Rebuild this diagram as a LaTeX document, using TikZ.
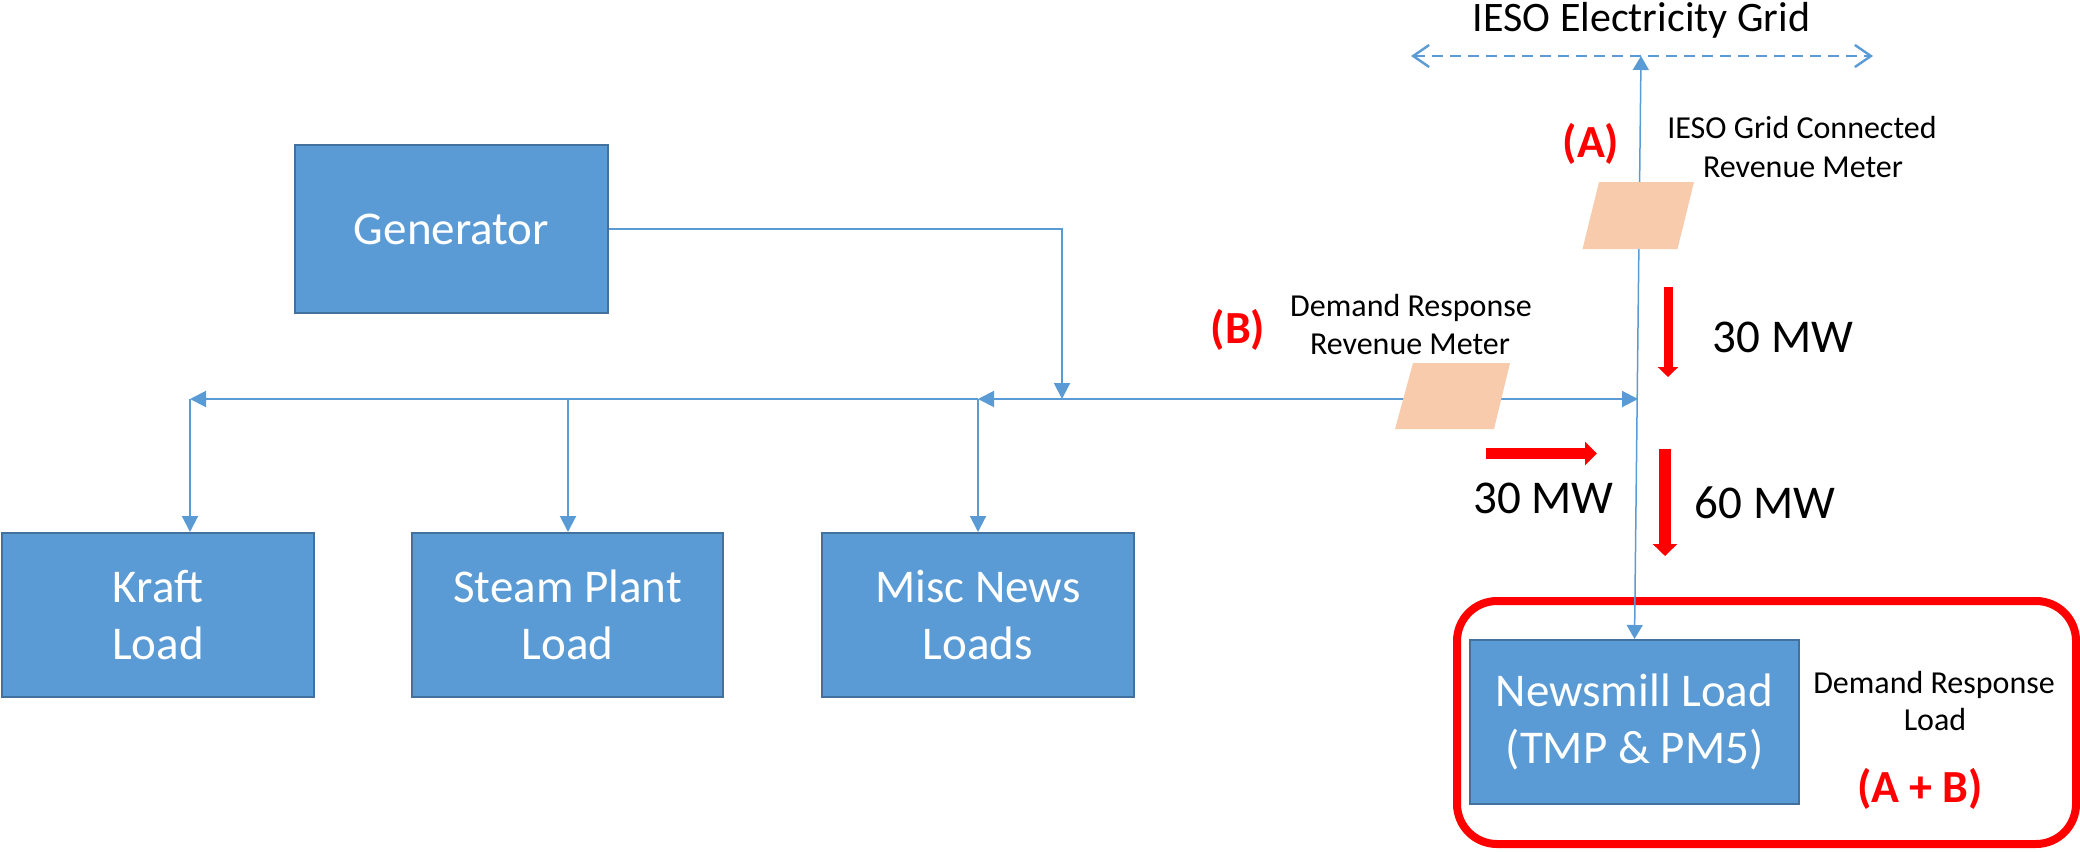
\documentclass[tikz,border=0pt]{standalone}
\usepackage{fontspec}
\setmainfont{Carlito}
\usetikzlibrary{arrows.meta}
\definecolor{boxblue}{HTML}{5B9BD5}
\definecolor{boxedge}{HTML}{41719C}
\definecolor{wire}{HTML}{5B9BD5}
\definecolor{meterfill}{HTML}{F8CBAD}
\definecolor{alertred}{HTML}{FF0000}
\tikzset{
  blockbox/.style={draw=boxedge, fill=boxblue, line width=1pt, text=white, align=center,
    inner sep=0pt, font=\fontsize{23.5}{28.8}\selectfont},
  wireline/.style={draw=wire, line width=1pt},
  wtip/.tip={Triangle[length=8pt,width=8pt]},
  vtip/.tip={Triangle[length=7pt,width=8pt]},
  barb/.tip={Straight Barb[length=8pt,width=11pt,line width=1.2pt]},
  smalltxt/.style={font=\fontsize{16}{19}\selectfont, inner sep=0pt, anchor=base},
  titletxt/.style={font=\fontsize{21}{25}\selectfont, inner sep=0pt, anchor=base},
  mwtxt/.style={font=\fontsize{23.5}{28}\selectfont, inner sep=0pt, anchor=base},
  redtag/.style={text=alertred, font=\bfseries\fontsize{23}{28}\selectfont, inner sep=0pt, anchor=base},
  flowarrow/.style={draw=alertred},
}
\begin{document}
\begin{tikzpicture}[x=0.5pt,y=-0.5pt]
\useasboundingbox (0,0) rectangle (2080,851);

% boxes
\node[blockbox, minimum width=156.5pt, minimum height=84pt] (gen) at (451.5,229) {Generator};
\node[blockbox, minimum width=156pt, minimum height=82pt] (kraft) at (158,615) {Kraft\\Load};
\node[blockbox, minimum width=155.5pt, minimum height=82pt] (steam) at (567.5,615) {Steam Plant\\Load};
\node[blockbox, minimum width=156pt, minimum height=82pt] (misc) at (978,615) {Misc News\\Loads};
\node[blockbox, minimum width=164.5pt, minimum height=82pt] (mill) at (1634.5,722) {Newsmill Load\\(TMP \& PM5)};
\node[draw=alertred, line width=4pt, rounded corners=20pt, minimum width=309.5pt,
      minimum height=121.5pt, inner sep=0pt] (drzone) at (1766.5,722.5) {};

% bus coordinates
\coordinate (busK) at (190,399);
\coordinate (busS) at (568,399);
\coordinate (busM) at (978,399);
\coordinate (busG) at (1062,399);
\coordinate (busR) at (1638,399);
\coordinate (gridL) at (1411,56);
\coordinate (gridR) at (1873,56);
\coordinate (gridA) at (1641,56);

% connectors
\draw[wireline, -wtip] (gen.east) -| (busG);
\draw[wireline, wtip-wtip] (busM) -- (busR);
\draw[wireline, -wtip] (busM) -- (busK);
\draw[wireline, -wtip] (busK) -- (busK |- kraft.north);
\draw[wireline, -wtip] (busS) -- (busS |- steam.north);
\draw[wireline, -wtip] (busM) -- (misc.north);
\draw[wireline, line width=1.3pt, dash pattern=on 5.5pt off 3.5pt, barb-barb] (gridL) -- (gridR);
\draw[wireline, line width=0.75pt, vtip-vtip] (mill.north) -- (gridA);

% meters
\coordinate (mA) at (1638,215.5);
\fill[meterfill, shift={(mA)}] (-39,-33.5) -- (56,-33.5) -- (39.5,33.5) -- (-55.5,33.5) -- cycle;
\coordinate (mB) at (1453,396);
\fill[meterfill, shift={(mB)}] (-40,-33) -- (57,-33) -- (41,33) -- (-58,33) -- cycle;

% red flow arrows
\coordinate (r1s) at (1668,287);
\coordinate (r1e) at (1668,377);
\coordinate (r2s) at (1665,449);
\coordinate (r2e) at (1665,556);
\coordinate (r3s) at (1486,453.5);
\coordinate (r3e) at (1597,453.5);
\draw[flowarrow, line width=4.5pt, -{Triangle[length=5pt,width=10pt]}] (r1s) -- (r1e);
\draw[flowarrow, line width=6pt, -{Triangle[length=6pt,width=12pt]}] (r2s) -- (r2e);
\draw[flowarrow, line width=5.5pt, -{Triangle[length=6pt,width=11.5pt]}] (r3s) -- (r3e);

% texts
\node[titletxt] (title) at (1641.5,32) {IESO Electricity Grid};
\node[redtag] (tagA) at (1591,157) {(A)};
\node[smalltxt] (mAl1) at (1802,138) {IESO Grid Connected};
\node[smalltxt] (mAl2) at (1803,177) {Revenue Meter};
\node[redtag] (tagB) at (1238,343) {(B)};
\node[smalltxt] (mBl1) at (1411,316) {Demand Response};
\node[smalltxt] (mBl2) at (1410,354) {Revenue Meter};
\node[mwtxt] (mw1) at (1783,352) {30 MW};
\node[mwtxt] (mw2) at (1543.5,513) {30 MW};
\node[mwtxt] (mw3) at (1765,518) {60 MW};
\node[smalltxt] (drl1) at (1934,693) {Demand Response};
\node[smalltxt] (drl2) at (1935,730) {Load};
\node[redtag] (tagAB) at (1920,802) {(A + B)};
\end{tikzpicture}
\end{document}
